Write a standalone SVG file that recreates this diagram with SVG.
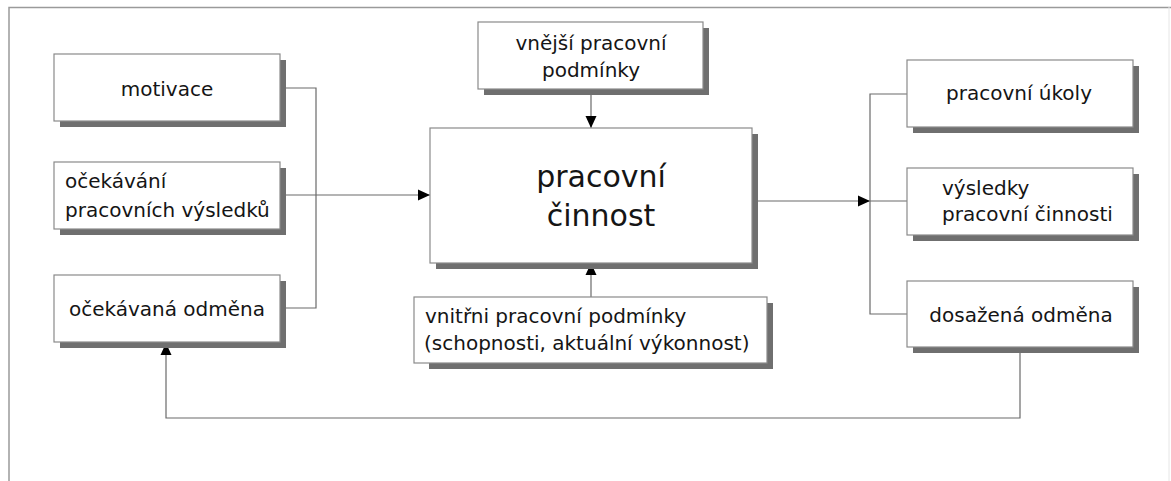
<svg xmlns="http://www.w3.org/2000/svg" width="1171" height="481" viewBox="0 0 1171 481">
<defs>
<style>
.sh{fill:#6f6f6f}
.bx{fill:#fff;stroke:#8a8a8a;stroke-width:1.2}
.t{font-family:"DejaVu Sans",Verdana,sans-serif;font-size:20px;fill:#151515}
.c{text-anchor:middle}
.big{font-size:30px}
.ln{fill:none;stroke:#6a6a6a;stroke-width:1.2}
</style>
<marker id="ah" viewBox="0 0 12 12" refX="12" refY="6" markerWidth="12" markerHeight="12" markerUnits="userSpaceOnUse" orient="auto">
<path d="M0,0.5 L12,6 L0,11.5 Z" fill="#000"/>
</marker>
</defs>
<rect width="1171" height="481" fill="#fff"/>
<g id="frame" fill="none" stroke="#9a9a9a" stroke-width="1.5">
<path d="M9,481 V7.5 H1171"/>
<path d="M1169,7 V481" stroke="#e6e6e6" stroke-width="1"/>
</g>
<g id="connectors">
<path class="ln" d="M280,88 H316 V308 H280"/>
<path class="ln" d="M280,195 H430" marker-end="url(#ah)"/>
<path class="ln" d="M591,89 V128" marker-end="url(#ah)"/>
<path class="ln" d="M591,297 V263" marker-end="url(#ah)"/>
<path class="ln" d="M752,201 H870" marker-end="url(#ah)"/>
<path class="ln" d="M870,201 H907 M907,94 H870 V314 H907"/>
<path class="ln" d="M1020,347 V418 H166 V343" marker-end="url(#ah)"/>
</g>
<g id="motivace">
<rect class="sh" x="60" y="60" width="226" height="67"/>
<rect class="bx" x="54" y="54" width="226" height="67"/>
<text class="t c" x="167" y="96">motivace</text>
</g>
<g id="ocekavani">
<rect class="sh" x="60" y="168" width="226" height="67"/>
<rect class="bx" x="54" y="162" width="226" height="67"/>
<text class="t" x="65" y="188">očekávání</text>
<text class="t" x="65" y="217">pracovních výsledků</text>
</g>
<g id="odmena">
<rect class="sh" x="60" y="281" width="226" height="67"/>
<rect class="bx" x="54" y="275" width="226" height="67"/>
<text class="t c" x="167" y="316">očekávaná odměna</text>
</g>
<g id="vnejsi">
<rect class="sh" x="484" y="28" width="225" height="67"/>
<rect class="bx" x="478" y="22" width="225" height="67"/>
<text class="t c" x="591" y="50">vnější pracovní</text>
<text class="t c" x="591" y="77">podmínky</text>
</g>
<g id="cinnost">
<rect class="sh" x="436" y="134" width="322" height="135"/>
<rect class="bx" x="430" y="128" width="322" height="135"/>
<text class="t big c" x="601" y="187">pracovní</text>
<text class="t big c" x="601" y="226">činnost</text>
</g>
<g id="vnitrni">
<rect class="sh" x="429" y="303" width="344" height="66"/>
<rect class="bx" x="414" y="297" width="353" height="66"/>
<text class="t" x="425" y="323">vnitřni pracovní podmínky</text>
<text class="t" x="424" y="350">(schopnosti, aktuální výkonnost)</text>
</g>
<g id="ukoly">
<rect class="sh" x="913" y="66" width="226" height="67"/>
<rect class="bx" x="907" y="60" width="226" height="67"/>
<text class="t c" x="1019" y="100">pracovní úkoly</text>
</g>
<g id="vysledky">
<rect class="sh" x="913" y="174" width="226" height="67"/>
<rect class="bx" x="907" y="168" width="226" height="67"/>
<text class="t" x="942" y="195">výsledky</text>
<text class="t" x="942" y="221">pracovní činnosti</text>
</g>
<g id="dosazena">
<rect class="sh" x="913" y="287" width="226" height="66"/>
<rect class="bx" x="907" y="281" width="226" height="66"/>
<text class="t c" x="1021" y="322">dosažená odměna</text>
</g>
</svg>
